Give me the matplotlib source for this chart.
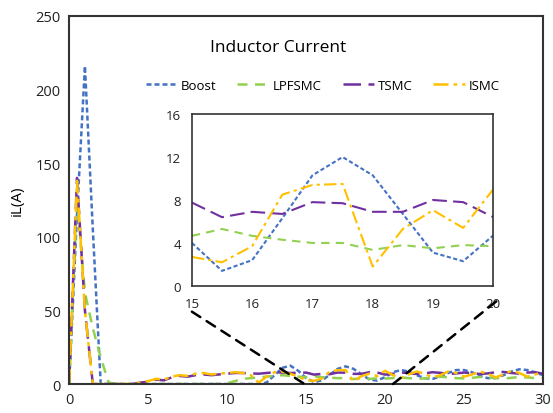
import numpy as np
import matplotlib.pyplot as plt
from matplotlib.patches import ConnectionPatch

plt.rcParams['font.family'] = ['Open Sans', 'DejaVu Sans']

# time axis, 0.5 step
t = np.arange(0, 30.5, 0.5)

boost = [0, 115, 216, 105, 0,
         0, 0, 0, 0, 0, 0, 0, 0, 0, 0, 0, 0, 0, 0, 0, 0, 0, 0, 0, 0,
         1, 6, 11, 12.5, 9, 4, 1.4, 2.4, 6.3, 10.3, 12, 10.3, 6.7, 3.1, 2.3, 4.7,
         8, 9.5, 8.5, 6, 4, 3.5, 5, 7.5, 9.5, 9.5, 8, 5.5, 4, 4, 6, 8.5, 10, 9.5, 8, 6]
lpfsmc = [0, 125, 62, 38, 18, 1,
          0, 0, 0, 0, 0, 0, 0, 0, 0, 0, 0, 0, 0, 0,
          0.5, 2, 3.5, 4, 4.5, 5, 5.5, 6, 5.5, 5,
          4.66, 5.3, 4.66, 4.3, 4.0, 4.0, 3.35, 3.8, 3.5, 3.8, 3.7,
          4, 4.5, 4, 3.5, 3.8, 4.5, 5, 4.5, 4, 3.8, 4.2, 4.8, 4.5, 4, 3.8, 4.2, 4.8, 4.5, 4, 4]
tsmc = [0, 140, 50, 0,
        0, 0, 0, 0, 0,
        1, 1.5, 3, 2.5, 4.5, 5.5, 5, 6, 6.5, 6, 6.5, 7, 7.5, 7.5, 7.2, 7, 7.5, 8, 7.8, 7.5, 7.6,
        7.76, 6.4, 6.9, 6.7, 7.8, 7.7, 6.9, 6.9, 8.0, 7.8, 6.4,
        7, 7.8, 7.5, 6.8, 7.2, 8, 7.6, 6.8, 7.2, 7.8, 7.4, 6.8, 7.2, 8, 8.2, 7.5, 7, 7.8, 8, 7]
ismc = [0, 138, 50, 0,
        0, 0, 0, 0, 0,
        1, 2, 3.5, 3, 5, 6, 5.5, 7, 7.5, 6.5, 7, 7.5, 8, 7.5, 6, 1, 5, 8, 8.5, 7, 5,
        2.7, 2.2, 3.7, 8.5, 9.4, 9.5, 1.8, 5.3, 7.05, 5.4, 9.0,
        6, 4, 6.5, 8.5, 7, 4.5, 6, 8.5, 7.5, 5, 6.5, 8.5, 7, 4.5, 6.5, 9, 7.5, 5, 6.5, 8]

names = ['Boost', 'LPFSMC', 'TSMC', 'ISMC']
colors = ['#4472C4', '#92D050', '#7030A0', '#FFC000']
dashes = [(2, 1.2), (4, 3), (7, 3), (6, 2, 1.5, 2)]
series = [boost, lpfsmc, tsmc, ismc]

fig = plt.figure(figsize=(5.53, 4.14), dpi=100)
ax = fig.add_axes([0.125, 0.07, 0.857, 0.889])
for y, n, c, d in zip(series, names, colors, dashes):
    ax.plot(t, y, color=c, lw=1.8, dashes=d, label=n)
ax.set_xlim(0, 30)
ax.set_ylim(0, 250)
ax.set_xticks(range(0, 31, 5))
ax.set_yticks(range(0, 251, 50))
ax.tick_params(length=0, labelsize=10.5, colors='#222222', pad=6)
for s in ax.spines.values():
    s.set_linewidth(1.5)
    s.set_color('#333333')
ax.set_ylabel('iL(A)', fontsize=11, labelpad=8)
ax.text(0.44, 0.915, 'Inductor Current', transform=ax.transAxes,
        ha='center', va='center', fontsize=12.5)
ax.legend(loc='upper center', bbox_to_anchor=(0.535, 0.862), ncol=4, frameon=False,
          fontsize=9.5, handlelength=2.4, handletextpad=0.25, columnspacing=1.6)

# zoomed window 15-20
ins = fig.add_axes([0.347, 0.307, 0.545, 0.415])
inner = (t >= 15) & (t <= 20)
for y, c, d in zip(series, colors, dashes):
    ins.plot(t[inner], np.array(y)[inner], color=c, lw=1.5, dashes=d)
ins.set_xlim(15, 20)
ins.set_ylim(0, 16)
ins.set_xticks(range(15, 21))
ins.set_yticks(range(0, 17, 4))
ins.tick_params(length=0, labelsize=9.5, colors='#222222', pad=8)
for s in ins.spines.values():
    s.set_linewidth(1.2)
    s.set_color('#333333')

for xa, xb in [((0.0, -0.15), (14.9, 0)), ((1.01, -0.09), (20.5, 0))]:
    con = ConnectionPatch(xyA=xa, coordsA=ins.transAxes, xyB=xb, coordsB=ax.transData,
                          color='black', lw=1.8, linestyle=(0, (4, 3)))
    fig.add_artist(con)

fig.savefig('out.png', dpi=100)
